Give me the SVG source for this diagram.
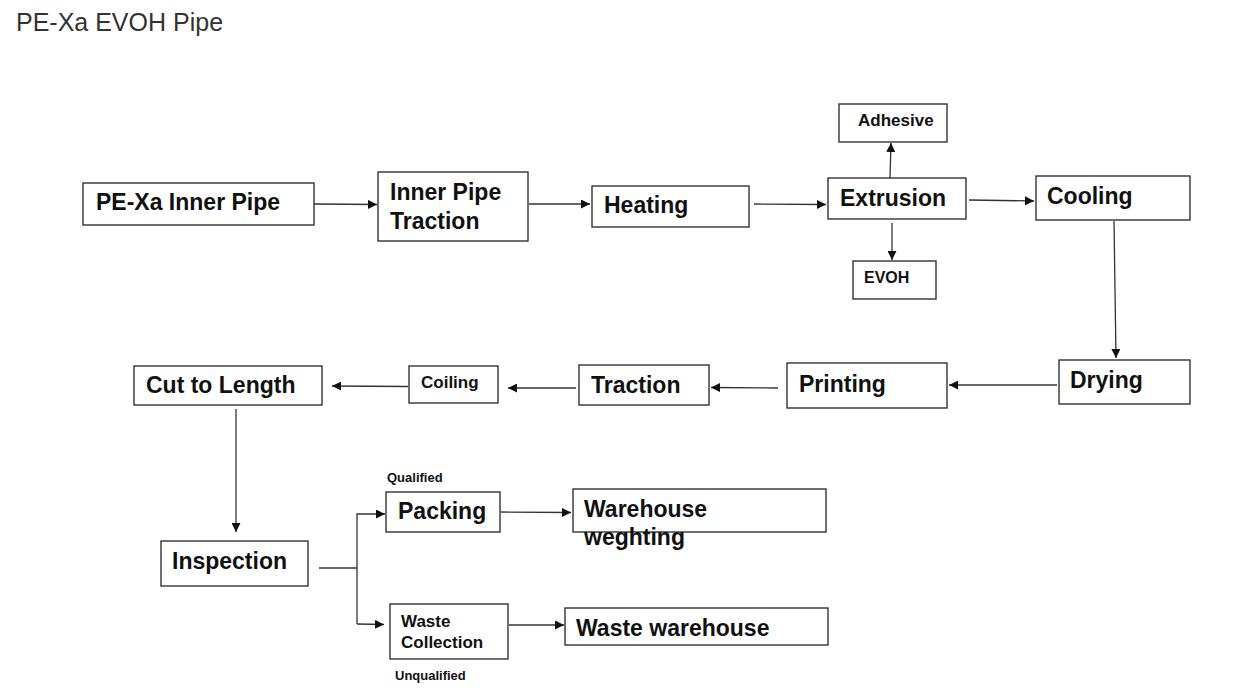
<svg xmlns="http://www.w3.org/2000/svg" width="1249" height="697" viewBox="0 0 1249 697">
<style>
.box{fill:#fff;stroke:#333;stroke-width:1.4}
.lg{font-family:"Liberation Sans",Arial,sans-serif;font-weight:bold;font-size:23px;fill:#111}
.sm{font-family:"Liberation Sans",Arial,sans-serif;font-weight:bold;font-size:17px;fill:#111}
.xs{font-family:"Liberation Sans",Arial,sans-serif;font-weight:bold;font-size:13px;fill:#111}
.title{font-family:"Liberation Sans",Arial,sans-serif;font-size:25px;fill:#333}
.c{fill:none;stroke:#333;stroke-width:1.3}
</style>
<defs>
<marker id="ah" viewBox="0 0 10 10" refX="10" refY="5" markerWidth="9" markerHeight="9" markerUnits="userSpaceOnUse" orient="auto">
<path d="M0,0 L10,5 L0,10 z" fill="#111"/>
</marker>
</defs>
<rect width="1249" height="697" fill="#fff"/>
<text class="title" x="16" y="31">PE-Xa EVOH Pipe</text>

<g id="connectors">
<path class="c" d="M314,204 L377,204.5" marker-end="url(#ah)"/>
<path class="c" d="M529,204 L590,204" marker-end="url(#ah)"/>
<path class="c" d="M754,204 L826,204.5" marker-end="url(#ah)"/>
<path class="c" d="M890,178 L891,143" marker-end="url(#ah)"/>
<path class="c" d="M892,223 L892,260" marker-end="url(#ah)"/>
<path class="c" d="M969,200 L1034,201" marker-end="url(#ah)"/>
<path class="c" d="M1114,221 L1116,358" marker-end="url(#ah)"/>
<path class="c" d="M1057,385 L949,385" marker-end="url(#ah)"/>
<path class="c" d="M778,388 L711,387.5" marker-end="url(#ah)"/>
<path class="c" d="M576,388 L508,388" marker-end="url(#ah)"/>
<path class="c" d="M408,386.5 L332,386" marker-end="url(#ah)"/>
<path class="c" d="M236,409 L236,532" marker-end="url(#ah)"/>
<path class="c" d="M319,568 L357,568"/>
<path class="c" d="M357,624 L357,514 L385,514" marker-end="url(#ah)"/>
<path class="c" d="M357,624 L384,624.5" marker-end="url(#ah)"/>
<path class="c" d="M501,512 L571,512.5" marker-end="url(#ah)"/>
<path class="c" d="M509,625 L564,625" marker-end="url(#ah)"/>
</g>

<g id="n-inner-pipe"><rect class="box" x="83" y="183" width="231" height="42"/><text class="lg" x="96" y="210">PE-Xa Inner Pipe</text></g>
<g id="n-inner-traction"><rect class="box" x="378" y="172" width="150" height="69"/><text class="lg" x="390" y="200">Inner Pipe</text><text class="lg" x="390" y="229">Traction</text></g>
<g id="n-heating"><rect class="box" x="592" y="186" width="157" height="41"/><text class="lg" x="604" y="213">Heating</text></g>
<g id="n-extrusion"><rect class="box" x="828" y="178" width="138" height="41"/><text class="lg" x="840" y="206">Extrusion</text></g>
<g id="n-adhesive"><rect class="box" x="839" y="104" width="108" height="38"/><text class="sm" x="858" y="126">Adhesive</text></g>
<g id="n-evoh"><rect class="box" x="853" y="261" width="83" height="38"/><text class="xs" style="font-size:16px" x="864" y="283">EVOH</text></g>
<g id="n-cooling"><rect class="box" x="1036" y="176" width="154" height="44"/><text class="lg" x="1047" y="204">Cooling</text></g>
<g id="n-drying"><rect class="box" x="1059" y="360" width="131" height="44"/><text class="lg" x="1070" y="388">Drying</text></g>
<g id="n-printing"><rect class="box" x="787" y="363" width="160" height="45"/><text class="lg" x="799" y="392">Printing</text></g>
<g id="n-traction"><rect class="box" x="579" y="365" width="130" height="40"/><text class="lg" x="591" y="393">Traction</text></g>
<g id="n-coiling"><rect class="box" x="409" y="366" width="89" height="37"/><text class="sm" x="421" y="388">Coiling</text></g>
<g id="n-cut"><rect class="box" x="134" y="366" width="188" height="39"/><text class="lg" x="146" y="393">Cut to Length</text></g>
<g id="n-inspection"><rect class="box" x="161" y="541" width="147" height="45"/><text class="lg" x="172" y="569">Inspection</text></g>
<g id="n-packing"><rect class="box" x="386" y="492" width="114" height="40"/><text class="lg" x="398" y="519">Packing</text><text class="xs" x="387" y="482">Qualified</text></g>
<g id="n-warehouse"><rect class="box" x="573" y="489" width="253" height="43"/><text class="lg" x="584" y="517">Warehouse</text><text class="lg" x="584" y="545">weghting</text></g>
<g id="n-waste-collection"><rect class="box" x="390" y="604" width="118" height="55"/><text class="sm" x="401" y="627">Waste</text><text class="sm" x="401" y="648">Collection</text><text class="xs" x="395" y="680">Unqualified</text></g>
<g id="n-waste-warehouse"><rect class="box" x="565" y="608" width="263" height="37"/><text class="lg" x="576" y="636">Waste warehouse</text></g>
</svg>
